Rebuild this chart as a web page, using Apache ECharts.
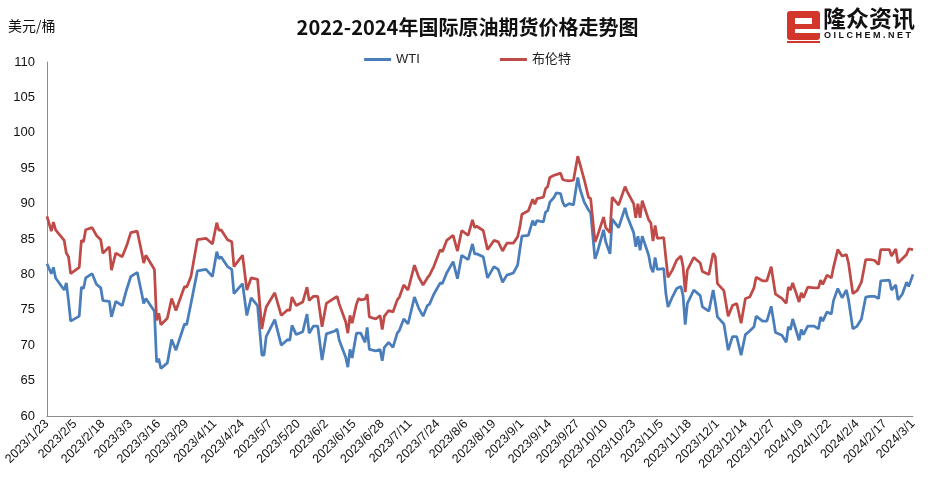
<!DOCTYPE html>
<html>
<head>
<meta charset="utf-8">
<script src="https://cdn.jsdelivr.net/npm/echarts@6/dist/echarts.min.js"></script>
<style>html,body{margin:0;padding:0;background:#fff;}#c{width:935px;height:488px;}</style>
</head>
<body>
<div id="c"></div>
<script>
// ---- data ----
const sampleDates = [
'2023/1/23','2023/1/25','2023/1/26','2023/1/27','2023/1/31','2023/2/1','2023/2/2','2023/2/3','2023/2/7','2023/2/8',
'2023/2/9','2023/2/10','2023/2/13','2023/2/15','2023/2/17','2023/2/18','2023/2/21','2023/2/22','2023/2/24','2023/2/27',
'2023/3/1','2023/3/3','2023/3/6','2023/3/8','2023/3/9','2023/3/10','2023/3/14','2023/3/15','2023/3/16','2023/3/17',
'2023/3/20','2023/3/22','2023/3/24','2023/3/28','2023/3/29','2023/3/31','2023/4/3','2023/4/7','2023/4/10','2023/4/12',
'2023/4/13','2023/4/14','2023/4/17','2023/4/19','2023/4/20','2023/4/22','2023/4/24','2023/4/26','2023/4/28','2023/5/1',
'2023/5/3','2023/5/4','2023/5/5','2023/5/9','2023/5/12','2023/5/15','2023/5/16','2023/5/17','2023/5/19','2023/5/22',
'2023/5/24','2023/5/25','2023/5/27','2023/5/29','2023/5/31','2023/6/2','2023/6/6','2023/6/7','2023/6/8','2023/6/11',
'2023/6/12','2023/6/13','2023/6/14','2023/6/16','2023/6/17','2023/6/18','2023/6/20','2023/6/21','2023/6/22','2023/6/25',
'2023/6/27','2023/6/28','2023/6/29','2023/7/1','2023/7/3','2023/7/5','2023/7/6','2023/7/8','2023/7/10','2023/7/13',
'2023/7/15','2023/7/17','2023/7/19','2023/7/20','2023/7/22','2023/7/25','2023/7/26','2023/7/28','2023/7/31','2023/8/2',
'2023/8/4','2023/8/7','2023/8/9','2023/8/10','2023/8/11','2023/8/14','2023/8/16','2023/8/19','2023/8/21','2023/8/23',
'2023/8/25','2023/8/28','2023/8/30','2023/8/31','2023/9/1','2023/9/4','2023/9/6','2023/9/7','2023/9/8','2023/9/11',
'2023/9/12','2023/9/13','2023/9/14','2023/9/16','2023/9/17','2023/9/19','2023/9/20','2023/9/21','2023/9/23','2023/9/25',
'2023/9/27','2023/9/28','2023/9/30','2023/10/2','2023/10/3','2023/10/5','2023/10/6','2023/10/9','2023/10/10','2023/10/12',
'2023/10/13','2023/10/16','2023/10/19','2023/10/20','2023/10/23','2023/10/24','2023/10/25','2023/10/26','2023/10/27','2023/10/30',
'2023/10/31','2023/11/1','2023/11/2','2023/11/3','2023/11/6','2023/11/7','2023/11/8','2023/11/10','2023/11/12','2023/11/14',
'2023/11/15','2023/11/16','2023/11/17','2023/11/20','2023/11/23','2023/11/24','2023/11/27','2023/11/29','2023/11/30','2023/12/1',
'2023/12/4','2023/12/6','2023/12/8','2023/12/10','2023/12/12','2023/12/14','2023/12/16','2023/12/18','2023/12/19','2023/12/22',
'2023/12/24','2023/12/26','2023/12/28','2023/12/31','2024/1/2','2024/1/3','2024/1/4','2024/1/5','2024/1/8','2024/1/9',
'2024/1/10','2024/1/12','2024/1/15','2024/1/17','2024/1/18','2024/1/19','2024/1/21','2024/1/23','2024/1/24','2024/1/26',
'2024/1/28','2024/1/30','2024/1/31','2024/2/2','2024/2/4','2024/2/6','2024/2/8','2024/2/10','2024/2/12','2024/2/14',
'2024/2/15','2024/2/19','2024/2/20','2024/2/22','2024/2/23','2024/2/25','2024/2/27','2024/2/28','2024/3/1'
];
const wti = [
81.5,80.1,81.0,79.5,77.8,78.8,76.3,73.4,74.1,78.2,
78.0,79.5,80.1,78.6,78.1,76.3,76.2,74.0,76.2,75.6,
77.8,79.7,80.3,77.4,75.9,76.6,74.8,67.6,68.1,66.7,
67.5,70.8,69.3,73.0,72.9,75.9,80.5,80.7,79.7,83.2,
82.2,82.5,81.1,80.7,77.3,78.0,78.7,74.2,76.7,75.6,
68.6,68.6,71.2,73.6,70.0,70.8,70.7,72.8,71.5,71.9,
74.4,71.7,72.7,72.7,67.9,71.6,72.0,72.3,70.7,68.3,
66.9,69.4,68.2,71.7,71.7,71.7,70.4,72.5,69.4,69.2,
69.4,67.8,69.7,70.4,69.7,71.7,72.1,73.7,73.0,76.8,
75.2,74.1,75.6,75.8,77.2,78.8,78.7,80.2,81.8,79.4,
82.7,82.1,84.3,82.9,82.9,82.5,79.5,81.1,80.7,78.9,
79.9,80.2,81.3,83.4,85.4,85.5,87.6,86.9,87.6,87.4,
88.8,89.0,90.2,90.9,91.5,91.4,90.2,89.6,90.0,89.8,
93.7,92.1,90.2,89.1,88.7,82.2,83.0,86.3,84.6,82.9,
87.8,86.6,89.4,88.2,85.9,83.9,85.4,83.4,85.4,82.7,
81.0,80.3,82.4,80.7,80.8,77.3,75.4,76.8,78.0,78.3,
77.0,72.9,75.9,77.8,77.0,75.4,74.8,77.8,76.0,74.0,
73.0,69.3,71.2,71.2,68.6,71.5,72.0,72.6,74.1,73.4,
73.4,75.5,71.8,71.4,70.4,72.6,72.2,73.7,70.7,72.2,
71.5,72.7,72.7,72.3,74.0,73.4,74.7,74.4,76.3,78.0,
76.7,77.8,76.4,72.3,72.7,73.7,76.8,76.9,76.9,76.6,
79.1,79.2,77.8,78.5,76.4,77.2,78.9,78.3,80.0
];
const brent = [
88.2,86.1,87.4,86.3,84.8,83.0,82.5,80.1,81.0,84.8,
84.6,86.3,86.6,85.5,84.9,83.0,83.9,80.6,83.0,82.5,
84.0,85.9,86.1,83.2,81.6,82.7,80.7,73.5,74.5,72.9,
73.8,76.6,74.9,78.3,78.2,79.7,84.9,85.1,84.3,87.3,
86.2,86.3,84.9,84.6,81.1,81.9,82.7,77.8,79.5,79.3,
72.3,74.0,75.4,77.4,74.2,75.0,74.9,76.8,75.6,76.1,
78.2,76.3,76.9,76.9,72.6,75.9,76.7,76.9,75.8,73.3,
71.7,74.2,73.1,75.8,76.6,76.4,76.5,77.2,74.0,73.7,
74.2,72.2,74.1,74.9,74.7,76.4,76.8,78.5,77.8,81.3,
79.6,78.5,79.5,79.9,81.1,83.5,83.2,84.8,85.5,83.3,
86.2,85.5,87.7,86.6,86.8,86.2,83.5,84.8,84.6,83.3,
84.4,84.4,85.3,86.6,88.5,89.0,90.6,89.9,90.7,90.9,
92.1,92.4,93.7,94.0,94.1,94.3,93.4,93.3,93.2,93.3,
96.7,95.6,93.4,90.9,90.7,84.6,85.3,88.1,86.6,85.9,
90.9,89.8,92.4,91.7,90.0,88.0,90.0,88.0,90.4,87.7,
87.3,84.7,86.9,85.1,85.2,82.3,79.6,80.6,82.0,82.6,
81.1,77.5,80.6,82.4,81.6,80.4,80.0,83.0,82.5,78.7,
77.7,74.1,75.6,75.9,73.1,76.6,76.8,78.1,79.6,79.1,
79.1,81.1,77.2,76.6,75.9,78.2,77.8,78.8,76.1,77.4,
76.7,78.2,78.1,78.1,79.2,78.6,79.9,79.5,81.0,83.5,
82.6,82.8,81.6,77.3,77.7,78.9,82.1,82.1,82.0,81.4,
83.5,83.5,82.6,83.6,81.6,82.2,82.8,83.6,83.5
];
const seriesNames = ['WTI', '布伦特'];
const yTicks = {min: 60, max: 110, step: 5};
const axisStart = [2023, 1, 23];
const axisDays = 404;

// category axis: every calendar day from 2023/1/23 to 2024/3/1
const allDays = [];
for (let i = 0; i < axisDays; i++) {
  const d = new Date(Date.UTC(axisStart[0], axisStart[1] - 1, axisStart[2] + i));
  allDays.push(d.getUTCFullYear() + '/' + (d.getUTCMonth() + 1) + '/' + d.getUTCDate());
}

const chart = echarts.init(document.getElementById('c'), null, {renderer: 'canvas'});
const font = '"Liberation Sans", "Noto Sans CJK SC", sans-serif';
chart.setOption({
  animation: false,
  backgroundColor: '#ffffff',
  title: {
    text: '2022-2024年国际原油期货价格走势图',
    left: 'center',
    top: 12,
    textStyle: {fontSize: 20, fontWeight: 'bold', color: '#111', fontFamily: '"Noto Sans CJK SC", sans-serif'}
  },
  legend: {
    data: seriesNames,
    top: 48,
    left: 'center',
    itemWidth: 27,
    itemHeight: 3,
    itemGap: 80,
    icon: 'rect',
    textStyle: {fontSize: 13, color: '#222', fontFamily: font}
  },
  grid: {left: 47, right: 22, top: 62, bottom: 72, containLabel: false},
  xAxis: {
    type: 'category',
    data: allDays,
    boundaryGap: false,
    axisLine: {lineStyle: {color: '#8c8c8c', width: 1}},
    axisTick: {show: false},
    axisLabel: {interval: 12, rotate: 45, fontSize: 12.5, color: '#111', fontFamily: font, margin: 6},
    splitLine: {show: false}
  },
  yAxis: {
    type: 'value',
    min: yTicks.min, max: yTicks.max, interval: yTicks.step,
    axisLine: {show: true, lineStyle: {color: '#8c8c8c', width: 1}},
    axisTick: {show: false},
    axisLabel: {fontSize: 13, color: '#111', fontFamily: font, margin: 12},
    splitLine: {show: false}
  },
  graphic: [
    {type: 'text', left: 8, top: 19, style: {text: '美元/桶', fontSize: 14, fill: '#111', fontFamily: '"Noto Sans CJK SC", sans-serif'}},
    {type: 'rect', shape: {x: 787, y: 11, width: 33, height: 29, r: 3}, style: {fill: '#d2362b'}},
    {type: 'rect', shape: {x: 795, y: 18, width: 17, height: 6}, style: {fill: '#ffffff'}},
    {type: 'rect', shape: {x: 795, y: 29, width: 25, height: 4}, style: {fill: '#ffffff'}},
    {type: 'rect', shape: {x: 787, y: 41, width: 33, height: 2}, style: {fill: '#d2362b'}},
    {type: 'text', left: 823, top: 7, style: {text: '隆众资讯', fontSize: 23, fontWeight: 'bold', fill: '#111', fontFamily: '"Noto Sans CJK SC", sans-serif'}},
    {type: 'text', left: 824, top: 31, style: {text: 'O I L C H E M . N E T', fontSize: 9, fontWeight: 'bold', fill: '#111', fontFamily: font}}
  ],
  series: [
    {
      name: seriesNames[0], type: 'line', showSymbol: false, symbol: 'none',
      color: '#4a7ebb', lineStyle: {width: 2.75, color: '#4a7ebb'},
      data: sampleDates.map((d, i) => [d, wti[i]])
    },
    {
      name: seriesNames[1], type: 'line', showSymbol: false, symbol: 'none',
      color: '#be4b48', lineStyle: {width: 2.75, color: '#be4b48'},
      data: sampleDates.map((d, i) => [d, brent[i]])
    }
  ]
});
</script>
</body>
</html>
